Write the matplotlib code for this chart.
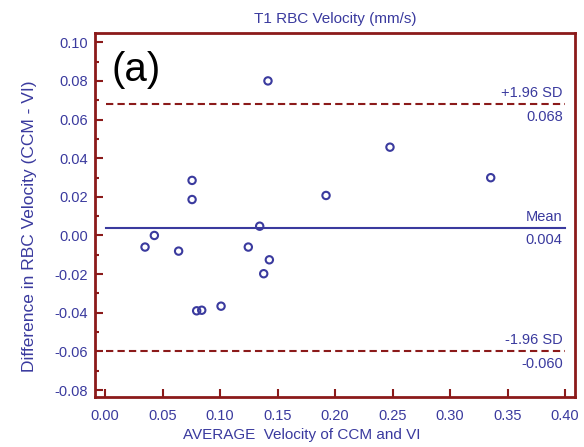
import matplotlib.pyplot as plt
from matplotlib.ticker import MultipleLocator

# Bland-Altman data
avg_velocity = [0.1417, 0.0757, 0.0757, 0.1345, 0.2478, 0.1922, 0.3354,
                0.0429, 0.0348, 0.0640, 0.1246, 0.1429, 0.1380, 0.0797,
                0.0841, 0.1009]
diff_velocity = [0.0800, 0.0285, 0.0186, 0.0048, 0.0457, 0.0207, 0.0299,
                 0.0000, -0.0060, -0.0081, -0.0060, -0.0126, -0.0198, -0.0390,
                 -0.0387, -0.0366]
mean_diff = 0.004
upper_loa = 0.068
lower_loa = -0.060

BLUE = '#3a3a9e'
RED = '#8b1a1a'

plt.rcParams['font.family'] = ['Liberation Sans', 'DejaVu Sans']

fig = plt.figure(figsize=(5.84, 4.47), dpi=100)
ax = fig.add_axes([0.1627, 0.1119, 0.8219, 0.8143])

ax.scatter(avg_velocity, diff_velocity, s=28, facecolors='none',
           edgecolors=BLUE, linewidths=1.5, zorder=3)

ax.plot([0.001, 0.40], [mean_diff, mean_diff], color=BLUE, lw=1.5)
for v in (upper_loa, lower_loa):
    ax.plot([0.001, 0.40], [v, v], color=RED, lw=1.5, ls=(0, (3.5, 2)))

labels = [('+1.96 SD', upper_loa), ('Mean', mean_diff), ('-1.96 SD', lower_loa)]
for name, v in labels:
    ax.annotate(name, (0.398, v), xytext=(0, 3), textcoords='offset points',
                ha='right', va='bottom', color=BLUE, fontsize=10.5)
    ax.annotate(f'{v:.3f}', (0.398, v), xytext=(0, -4), textcoords='offset points',
                ha='right', va='top', color=BLUE, fontsize=10.5)

ax.text(0.006, 0.0854, '(a)', fontsize=29, color='black', ha='left', va='center')

ax.set_xlim(-0.0087, 0.4087)
ax.set_ylim(-0.0836, 0.1048)
ax.xaxis.set_major_locator(MultipleLocator(0.05))
ax.yaxis.set_major_locator(MultipleLocator(0.02))
ax.yaxis.set_minor_locator(MultipleLocator(0.01))
ax.xaxis.set_major_formatter(plt.FormatStrFormatter('%.2f'))
ax.yaxis.set_major_formatter(plt.FormatStrFormatter('%.2f'))

ax.tick_params(which='both', direction='in', color=RED, width=1.5,
               labelcolor=BLUE, labelsize=10.5)
ax.tick_params(which='major', length=6)
ax.tick_params(axis='x', which='major', pad=9)
ax.tick_params(axis='y', which='major', pad=5)
ax.tick_params(which='minor', length=3)
for s in ax.spines.values():
    s.set_color(RED)
    s.set_linewidth(2)

ax.set_title('T1 RBC Velocity (mm/s)', color=BLUE, fontsize=11, pad=7)
ax.set_xlabel('AVERAGE  Velocity of CCM and VI', color=BLUE, fontsize=11)
ax.xaxis.set_label_coords(0.431, -0.085)
ax.xaxis.label.set_va('top')
ax.set_ylabel('Difference in RBC Velocity (CCM - VI)', color=BLUE, fontsize=12.5)
ax.yaxis.set_label_coords(-0.12, 0.47)

fig.savefig('out.png', dpi=100)
